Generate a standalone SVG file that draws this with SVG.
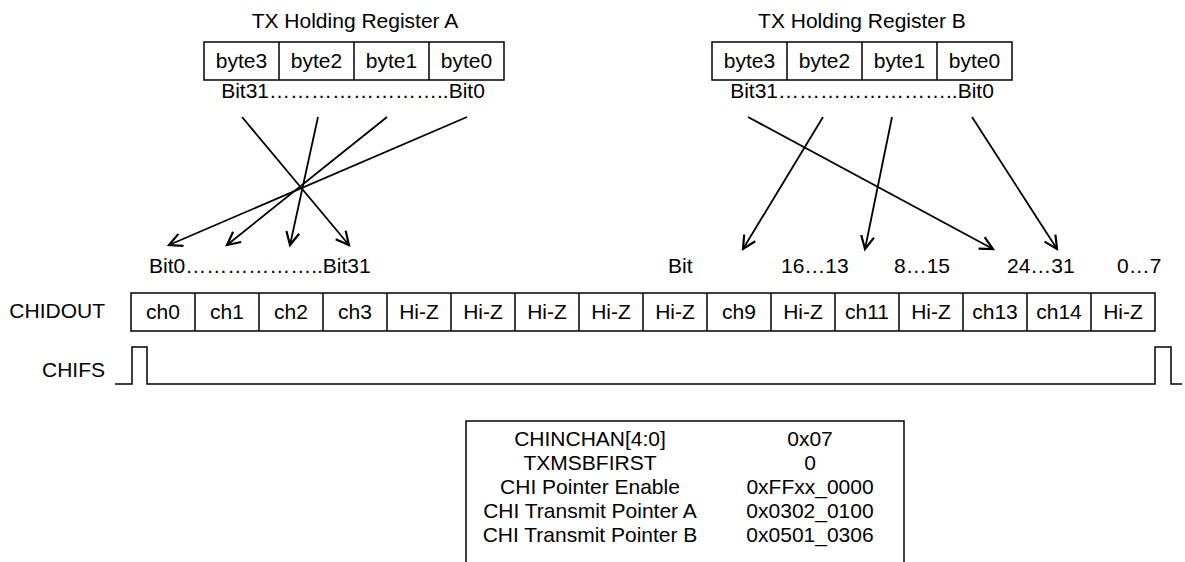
<svg xmlns="http://www.w3.org/2000/svg" width="1185" height="562" viewBox="0 0 1185 562">
<defs>
<style>
text{font-family:"Liberation Sans",Arial,sans-serif;font-size:21px;fill:#000}
.c{text-anchor:middle}
.e{text-anchor:end}
.box{fill:#fff;stroke:#000;stroke-width:1.5}
.ln{fill:none;stroke:#000;stroke-width:1.5}
.ar{fill:none;stroke:#000;stroke-width:1.8;marker-end:url(#ah)}
</style>
<marker id="ah" markerUnits="userSpaceOnUse" markerWidth="20" markerHeight="20" viewBox="-15 -10 20 20" refX="0" refY="0" orient="auto">
<path d="M-13,-6.5 L0,0 L-13,6.5" fill="none" stroke="#000" stroke-width="2.2"/>
</marker>
</defs>
<rect width="1185" height="562" fill="#fff"/>

<g id="regA">
<text class="c" x="355" y="28">TX Holding Register A</text>
<rect class="box" x="204" y="42" width="300" height="38"/>
<path class="ln" d="M279,42V80M354,42V80M429,42V80"/>
<text class="c" x="241.5" y="68">byte3</text>
<text class="c" x="316.5" y="68">byte2</text>
<text class="c" x="391.5" y="68">byte1</text>
<text class="c" x="466.5" y="68">byte0</text>
<text class="c" x="353" y="98">Bit31……………………..Bit0</text>
</g>

<g id="regB">
<text class="c" x="862" y="28">TX Holding Register B</text>
<rect class="box" x="712" y="42" width="300" height="38"/>
<path class="ln" d="M787,42V80M862,42V80M937,42V80"/>
<text class="c" x="749.5" y="68">byte3</text>
<text class="c" x="824.5" y="68">byte2</text>
<text class="c" x="899.5" y="68">byte1</text>
<text class="c" x="974.5" y="68">byte0</text>
<text class="c" x="862" y="98">Bit31……………………..Bit0</text>
</g>

<g id="connectors">
<line class="ar" x1="242" y1="117" x2="349" y2="245"/>
<line class="ar" x1="318" y1="117" x2="290" y2="245"/>
<line class="ar" x1="387" y1="117" x2="227" y2="245"/>
<line class="ar" x1="467" y1="117" x2="169" y2="245"/>
<line class="ar" x1="748" y1="117" x2="993" y2="249"/>
<line class="ar" x1="823" y1="117" x2="743" y2="249"/>
<line class="ar" x1="892" y1="117" x2="865" y2="249"/>
<line class="ar" x1="972" y1="117" x2="1057" y2="249"/>
</g>

<g id="bitLabels">
<text x="149" y="273">Bit0………………..Bit31</text>
<text x="668" y="273">Bit</text>
<text x="781" y="273">16…13</text>
<text x="894" y="273">8…15</text>
<text x="1007" y="273">24…31</text>
<text x="1117" y="273">0…7</text>
</g>

<g id="chidout">
<text class="e" x="105" y="318">CHIDOUT</text>
<rect class="box" x="131" y="293" width="1024" height="38"/>
<path class="ln" d="M195,293V331M259,293V331M323,293V331M387,293V331M451,293V331M515,293V331M579,293V331M643,293V331M707,293V331M771,293V331M835,293V331M899,293V331M963,293V331M1027,293V331M1091,293V331"/>
<text class="c" x="163" y="319">ch0</text>
<text class="c" x="227" y="319">ch1</text>
<text class="c" x="291" y="319">ch2</text>
<text class="c" x="355" y="319">ch3</text>
<text class="c" x="419" y="319">Hi-Z</text>
<text class="c" x="483" y="319">Hi-Z</text>
<text class="c" x="547" y="319">Hi-Z</text>
<text class="c" x="611" y="319">Hi-Z</text>
<text class="c" x="675" y="319">Hi-Z</text>
<text class="c" x="739" y="319">ch9</text>
<text class="c" x="803" y="319">Hi-Z</text>
<text class="c" x="867" y="319">ch11</text>
<text class="c" x="931" y="319">Hi-Z</text>
<text class="c" x="995" y="319">ch13</text>
<text class="c" x="1059" y="319">ch14</text>
<text class="c" x="1123" y="319">Hi-Z</text>
</g>

<g id="chifs">
<text class="e" x="105" y="377">CHIFS</text>
<path class="ln" d="M115,384H132V347H147V384H1155V347H1171V384H1182"/>
</g>

<g id="table">
<path class="ln" d="M466,570V421H904V570"/>
<text class="c" x="590" y="446">CHINCHAN[4:0]</text>
<text class="c" x="590" y="470">TXMSBFIRST</text>
<text class="c" x="590" y="494">CHI Pointer Enable</text>
<text class="c" x="590" y="518">CHI Transmit Pointer A</text>
<text class="c" x="590" y="542">CHI Transmit Pointer B</text>
<text class="c" x="810" y="446">0x07</text>
<text class="c" x="810" y="470">0</text>
<text class="c" x="810" y="494">0xFFxx_0000</text>
<text class="c" x="810" y="518">0x0302_0100</text>
<text class="c" x="810" y="542">0x0501_0306</text>
</g>
</svg>
